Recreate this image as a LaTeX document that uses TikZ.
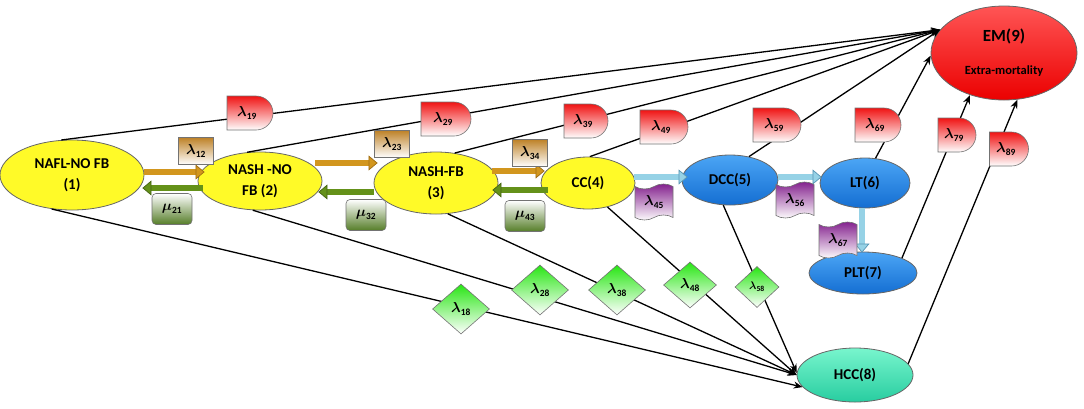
\documentclass[tikz,border=0pt]{standalone}
\usepackage{amsmath}
\usepackage{fontspec}
\setmainfont{Carlito}
\usetikzlibrary{arrows.meta,shapes.geometric,shapes.symbols,calc}
\definecolor{yelF}{RGB}{255,250,40}
\definecolor{bluT}{RGB}{75,165,245}
\definecolor{bluB}{RGB}{20,110,210}
\definecolor{hccT}{RGB}{120,245,205}
\definecolor{hccB}{RGB}{40,205,160}
\definecolor{emT}{RGB}{255,85,85}
\definecolor{emB}{RGB}{235,0,0}
\definecolor{redL}{RGB}{240,20,20}
\definecolor{brwL}{RGB}{190,130,40}
\definecolor{grnD}{RGB}{85,125,40}
\definecolor{grnL}{RGB}{40,230,20}
\definecolor{purL}{RGB}{130,30,140}
\definecolor{orF}{RGB}{210,150,30}
\definecolor{orD}{RGB}{160,110,20}
\definecolor{gaF}{RGB}{100,145,25}
\definecolor{gaD}{RGB}{70,100,20}
\definecolor{baF}{RGB}{150,210,230}
\definecolor{baD}{RGB}{90,150,180}
\newcommand{\lam}[1]{$\boldsymbol{\lambda}_{\mathbf{#1}}$}
\newcommand{\mmu}[1]{$\boldsymbol{\mu}_{\mathbf{#1}}$}
\newcommand{\dlab}[5]{%
  \path[dshape] (#2-#4/2,-#3-17) -- ++(0,34) -- ++(#4-17,0)
     arc[start angle=90,end angle=-90,radius=17] -- cycle;
  \node[dtext] (#1) at (#2-3,-#3) {#5};}
\begin{document}
\begin{tikzpicture}[x=1pt,y=1pt,
  state/.style={ellipse, draw=black!60, line width=0.8pt, inner sep=0pt,
    font=\bfseries\fontsize{15}{21}\selectfont, align=center},
  yel/.style={state, fill=yelF},
  blu/.style={state, top color=bluT, bottom color=bluB},
  hcc/.style={state, top color=hccT, bottom color=hccB},
  em/.style={state, top color=emT, bottom color=emB},
  conn/.style={draw=black, line width=1.3pt, -{Stealth[length=9pt,width=7pt]}},
  fat/.style 2 args={draw=#1, double=#2, double distance=5.5pt, line width=0.7pt,
    -{Triangle[length=9pt,width=15pt,fill=#2,line width=0.7pt]}},
  lbl/.style={inner sep=0pt, font=\fontsize{13.5}{15}\selectfont, draw=black!55, line width=0.6pt},
  fwd/.style={lbl, rectangle, top color=brwL, bottom color=white,
    minimum width=35pt, minimum height=27pt},
  bwd/.style={lbl, rectangle, rounded corners=4pt, top color=white, bottom color=grnD,
    minimum width=40pt, minimum height=31pt},
  wav/.style={lbl, tape, top color=purL, bottom color=white,
    minimum width=38pt, minimum height=36pt},
  dia/.style={lbl, diamond, top color=grnL, bottom color=white, aspect=1.15,
    minimum width=57pt, minimum height=50pt},
  dshape/.style={draw=black!55, line width=0.6pt, top color=redL, bottom color=white},
  dtext/.style={inner sep=0pt, font=\fontsize{13.5}{15}\selectfont}
]
\useasboundingbox (0,0) rectangle (1084,-408);

% states
\node[yel, minimum width=144pt, minimum height=70pt] (n1) at (72,-175) {NAFL-NO FB\\(1)};
\node[yel, minimum width=124pt, minimum height=58pt] (n2) at (260,-181) {NASH -NO\\FB (2)};
\node[yel, minimum width=124pt, minimum height=62pt] (n3) at (436,-183) {NASH-FB\\(3)};
\node[yel, minimum width=94pt, minimum height=52pt] (n4) at (588,-183) {CC(4)};
\node[blu, minimum width=96pt, minimum height=50pt] (n5) at (730,-180) {DCC(5)};
\node[blu, minimum width=90pt, minimum height=50pt] (n6) at (865,-183) {LT(6)};
\node[blu, minimum width=108pt, minimum height=42pt] (n7) at (863,-273) {PLT(7)};
\node[hcc, minimum width=116pt, minimum height=54pt] (n8) at (855,-375) {HCC(8)};
\node[em, minimum width=146pt, minimum height=94pt] (n9) at (1004,-53)
  {{\fontsize{17}{17}\selectfont EM(9)}\\[12pt]{\fontsize{12.5}{14}\selectfont Extra-mortality}};

% transitions to extra-mortality
\draw[conn] (n1.107) -- (n9.160);
\draw[conn] (n2.114) -- (n9.160);
\draw[conn] (n3.58) -- (n9.160);
\draw[conn] (n4.86) -- (n9.160);
\draw[conn] (n5.51) -- (n9.160);
\draw[conn] (n6.67) -- (n9.182);
\draw[conn] (n7.21) -- (n9.231);
\draw[conn] (n8.12) -- (n9.286);
% transitions to HCC
\draw[conn] (n1.239) -- (n8.193);
\draw[conn] (n2.256) -- (n8.180);
\draw[conn] (n3.291) -- (n8.180);
\draw[conn] (n4.309) -- (n8.180);
\draw[conn] (n5.255) -- (n8.178);

% fat arrows
\draw[fat={orD}{orF}] ($(n1.east)+(0,3)$) -- ($(n1.east -| n2.west)+(7,3)$);
\draw[fat={gaD}{gaF}] ($(n2.west)+(5,-7)$) -- ($(n2.west -| n1.east)+(-2,-7)$);
\draw[fat={orD}{orF}] ($(n2.east)+(-7,18)$) -- ($(n2.east -| n3.west)+(4,18)$);
\draw[fat={gaD}{gaF}] ($(n3.west)+(0,-9)$) -- ($(n3.west -| n2.east)+(-4,-9)$);
\draw[fat={orD}{orF}] ($(n3.east)+(-6,12)$) -- ($(n3.east -| n4.west)+(4,12)$);
\draw[fat={gaD}{gaF}] ($(n4.west)+(7,-7)$) -- ($(n4.west -| n3.east)+(-6,-7)$);
\draw[fat={baD}{baF}] ($(n4.east)+(-1,6)$) -- ($(n4.east -| n5.west)+(6,6)$);
\draw[fat={baD}{baF}] ($(n5.east)+(0,3)$) -- ($(n5.east -| n6.west)+(2,3)$);
\draw[fat={baD}{baF}] ($(n6.south)+(-3,0)$) -- ($(n6.south |- n7.north)+(-3,-1)$);

% labels
\node[fwd] (l12) at (196,-151) {\lam{12}};
\node[fwd] (l23) at (392,-144) {\lam{23}};
\node[fwd] (l34) at (530,-153) {\lam{34}};
\node[bwd] (m21) at (172,-209) {\mmu{21}};
\node[bwd] (m32) at (366,-215) {\mmu{32}};
\node[bwd] (m43) at (525,-216) {\mmu{43}};
\node[wav] (l45) at (654,-202) {\lam{45}};
\node[wav] (l56) at (795,-200) {\lam{56}};
\node[wav] (l67) at (838,-240) {\lam{67}};

\dlab{l19}{250}{113}{46}{\lam{19}}
\dlab{l29}{446}{119}{50}{\lam{29}}
\dlab{l39}{586}{121}{44}{\lam{39}}
\dlab{l49}{664}{127}{48}{\lam{49}}
\dlab{l59}{777}{125}{48}{\lam{59}}
\dlab{l69}{878}{125}{46}{\lam{69}}
\dlab{l79}{957}{135}{38}{\lam{79}}
\dlab{l89}{1009}{149}{39}{\lam{89}}

\node[dia] (l18) at (461,-309) {\lam{18}};
\node[dia] (l28) at (540,-290) {\lam{28}};
\node[dia] (l38) at (617,-290) {\lam{38}};
\node[dia, minimum width=53pt, minimum height=46pt] (l48) at (690,-285) {\lam{48}};
\node[dia, minimum width=44pt, minimum height=41pt, font=\fontsize{11}{13}\selectfont] (l58) at (757,-287) {\lam{58}};
\end{tikzpicture}
\end{document}
